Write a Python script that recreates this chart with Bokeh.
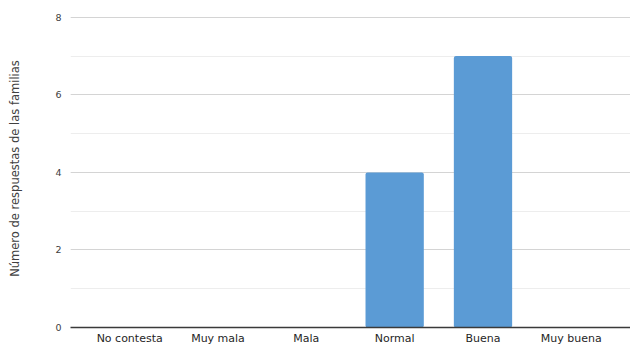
from bokeh.plotting import figure
from bokeh.models import ColumnDataSource, FactorRange, Range1d, SingleIntervalTicker
from bokeh.embed import file_html
from bokeh.resources import INLINE

categorias = ["No contesta", "Muy mala", "Mala", "Normal", "Buena", "Muy buena"]
respuestas = [0, 0, 0, 4, 7, 0]

source = ColumnDataSource(data=dict(cat=categorias, val=respuestas))

FONT = "DejaVu Sans"
TEXT = "#404040"

p = figure(
    width=630, height=347,
    x_range=FactorRange(*categorias, range_padding=0.17, range_padding_units="absolute"),
    y_range=Range1d(0, 8.2),
    output_backend="svg", toolbar_location=None,
    min_border_left=70, min_border_right=0, min_border_top=9, min_border_bottom=12,
)

p.vbar(x="cat", top="val", width=0.66, source=source,
       fill_color="#5B9BD5", line_color=None, border_radius=2)

p.outline_line_color = None
p.background_fill_color = "white"
p.border_fill_color = "white"

# grid: even values solid, odd values lighter
p.xgrid.grid_line_color = None
p.yaxis.ticker = SingleIntervalTicker(interval=2, num_minor_ticks=2)
p.ygrid.grid_line_color = "#d4d4d4"
p.ygrid.grid_line_width = 1.2
p.ygrid.minor_grid_line_color = "#ededed"
p.ygrid.minor_grid_line_width = 1

p.yaxis.axis_line_color = None
p.yaxis.major_tick_line_color = None
p.yaxis.minor_tick_line_color = None
p.yaxis.major_label_standoff = 3
p.yaxis.major_label_text_font = FONT
p.yaxis.major_label_text_font_size = "9.5px"
p.yaxis.major_label_text_color = TEXT
p.yaxis.axis_label = "Número de respuestas de las familias"
p.yaxis.axis_label_text_font = FONT
p.yaxis.axis_label_text_font_size = "11.5px"
p.yaxis.axis_label_text_font_style = "normal"
p.yaxis.axis_label_text_color = TEXT
p.yaxis.axis_label_standoff = 30

p.xaxis.axis_line_color = "#3a3a3a"
p.xaxis.axis_line_width = 1.5
p.xaxis.major_tick_line_color = None
p.xaxis.minor_tick_line_color = None
p.xaxis.major_label_standoff = -2
p.xaxis.major_label_text_font = FONT
p.xaxis.major_label_text_font_size = "11px"
p.xaxis.major_label_text_color = "#262626"

open("out.html", "w").write(file_html(p, INLINE))
